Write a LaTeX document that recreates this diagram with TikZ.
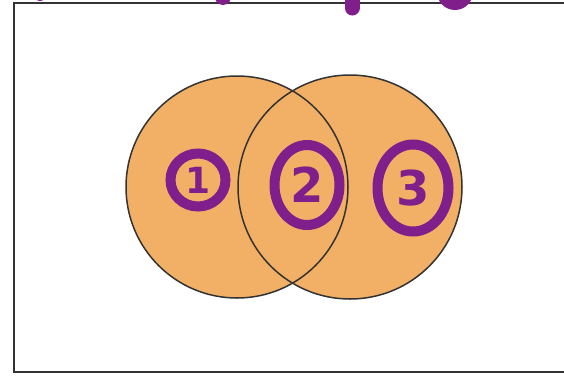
\documentclass[tikz,border=0pt]{standalone}
\usepackage{tikz}
\usepackage{xcolor}
\usepackage{fontspec}
\usetikzlibrary{shapes.geometric}
\newfontfamily\inkfont{DejaVu Sans}
\definecolor{vennorange}{RGB}{242,176,102}
\definecolor{inkpurple}{RGB}{128,30,140}

\begin{document}
\begin{tikzpicture}[x=1pt,y=-1pt,
  ring/.style={draw=inkpurple,line width=10pt,ellipse,inner sep=0pt,
    text=inkpurple,font=\fontsize{48}{50}\selectfont\inkfont\bfseries}]
\useasboundingbox (0,0) rectangle (564,375);
\clip (0,0) rectangle (564,375);
\fill[white] (0,0) rectangle (564,375);
\draw[black!80,line width=2pt] (14,3) rectangle (600,372);
% bits of ink cut off at the top
\fill[inkpurple] (40,-5) circle (6);
\fill[inkpurple] (223,-6) ellipse (9 and 11);
\draw[inkpurple,line width=15pt,line cap=round] (352,-10) -- (352,8);
\fill[inkpurple] (455,-8) ellipse (18 and 18);
% the two sets
\fill[vennorange] (237,187) circle (111);
\fill[vennorange] (350,187) circle (112);
\draw[black!80,line width=1.5pt] (237,187) circle (111);
\draw[black!80,line width=1.5pt] (350,187) circle (112);
% circled regions
\node[ring,minimum width=55pt,minimum height=53pt,
  font=\fontsize{36}{38}\selectfont\inkfont\bfseries] (lab1) at (198,180) {1};
\node[ring,minimum width=65pt,minimum height=80pt] (lab2) at (307,185) {2};
\node[ring,minimum width=71pt,minimum height=87pt] (lab3) at (413,188) {3};
\end{tikzpicture}
\end{document}
